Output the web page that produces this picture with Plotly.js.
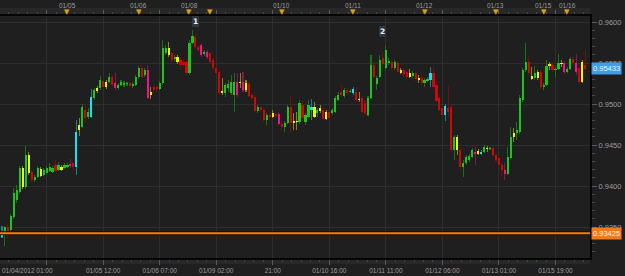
<!DOCTYPE html>
<html>
<head>
<meta charset="utf-8">
<script src="https://cdn.plot.ly/plotly-3.0.1.min.js"></script>
<style>
html,body{margin:0;padding:0;background:#1f1f1f;}
#chart{width:625px;height:276px;}
</style>
</head>
<body>
<div id="chart"></div>
<script>
// Hourly OHLC bars (first bar 01/04/2012 02:00), weekend gap removed
const open = [
.9338,.9340,.9350,.9346,.9362,.9383,.9393,.9422,.9399,.9438,
.9417,.9407,.9411,.9421,.9413,.9416,.9418,.9422,.9418,.9426,
.9423,.9422,.9423,.9424,.9428,.9423,.9468,.9472,.9493,.9484,
.9484,.9507,.9516,.9519,.9528,.9521,.9527,.9533,.9526,.9519,
.9523,.9523,.9524,.9526,.9522,.9523,.9533,.9544,.9535,.9541,
.9515,.9521,.9521,.9518,.9526,.9562,.9568,.9562,.9555,.9557,
.9554,.9551,.9551,.9538,.9574,.9582,.9569,.9572,.9561,.9563,
.9562,.9554,.9544,.9539,.9513,.9513,.9519,.9513,.9527,.9511,
.9526,.9527,.9517,.9524,.9511,.9509,.9491,.9496,.9493,.9480,
.9487,.9484,.9488,.9488,.9476,.9472,.9477,.9496,.9479,
.9478,.9478,.9499,.9478,.9484,.9493,.9496,.9489,.9491,.9493,.9490,
.9490,.9489,.9490,.9505,.9515,.9510,.9517,.9515,.9513,.9515,
.9506,.9507,.9501,.9487,.9507,.9548,.9524,.9533,.9556,.9544,
.9550,.9551,.9544,.9550,
.9541,.9541,.9539,.9533,.9534,.9538,.9529,.9532,.9526,.9528,
.9529,.9538,.9523,.9507,.9495,.9498,.9495,.9496,.9444,.9460,
.9444,.9423,.9428,.9432,.9435,.9441,.9439,.9439,.9441,.9446,
.9445,.9446,.9438,.9434,.9426,.9419,.9415,.9434,.9465,.9465,
.9466,.9505,.9541,.9551,.9534,.9532,.9539,.9539,.9521,.9523,
.9546,.9548,.9541,.9543,.9549,.9550,.9539,.9543,.9555,.9550,
.9544,.9527,.9548
];
const high = [
.9351,.9351,.9354,.9366,.9398,.9401,.9424,.9424,.9449,.9441,
.9419,.9413,.9424,.9423,.9422,.9424,.9428,.9424,.9432,.9429,
.9426,.9428,.9428,.9433,.9430,.9480,.9483,.9500,.9499,.9495,
.9518,.9519,.9522,.9534,.9530,.9529,.9538,.9535,.9538,.9526,
.9529,.9528,.9527,.9527,.9527,.9535,.9546,.9548,.9544,.9548,
.9521,.9522,.9523,.9528,.9578,.9572,.9576,.9564,.9560,.9560,
.9556,.9554,.9554,.9578,.9590,.9585,.9572,.9574,.9566,.9566,
.9563,.9556,.9546,.9541,.9532,.9526,.9529,.9535,.9538,.9538,
.9538,.9539,.9529,.9527,.9513,.9511,.9499,.9498,.9495,.9489,
.9489,.9493,.9490,.9490,.9478,.9479,.9499,.9511,.9489,
.9490,.9505,.9505,.9489,.9505,.9506,.9502,.9495,.9499,.9495,.9493,
.9493,.9495,.9510,.9515,.9523,.9519,.9519,.9518,.9521,.9519,
.9515,.9510,.9505,.9510,.9560,.9551,.9534,.9560,.9563,.9572,
.9556,.9554,.9554,.9552,
.9544,.9544,.9541,.9543,.9540,.9539,.9535,.9534,.9532,.9533,
.9545,.9545,.9530,.9511,.9499,.9500,.9523,.9499,.9462,.9462,
.9446,.9432,.9438,.9439,.9446,.9448,.9445,.9444,.9450,.9449,
.9448,.9448,.9439,.9437,.9428,.9428,.9448,.9472,.9471,.9478,
.9511,.9544,.9574,.9559,.9545,.9546,.9541,.9541,.9526,.9554,
.9551,.9551,.9545,.9561,.9554,.9552,.9545,.9557,.9557,.9561,
.9548,.9554,.9566
];
const low = [
.9337,.9327,.9337,.9344,.9360,.9379,.9390,.9396,.9396,.9413,
.9405,.9405,.9410,.9411,.9412,.9415,.9417,.9416,.9417,.9418,
.9418,.9421,.9422,.9422,.9419,.9413,.9461,.9471,.9478,.9482,
.9483,.9505,.9513,.9517,.9519,.9518,.9526,.9522,.9517,.9517,
.9522,.9521,.9522,.9521,.9519,.9522,.9530,.9532,.9533,.9506,
.9506,.9513,.9515,.9517,.9523,.9560,.9557,.9551,.9552,.9549,
.9541,.9545,.9537,.9535,.9573,.9568,.9563,.9557,.9559,.9555,
.9550,.9541,.9535,.9511,.9511,.9509,.9515,.9511,.9490,.9509,
.9519,.9515,.9515,.9509,.9505,.9490,.9489,.9490,.9478,.9474,
.9482,.9483,.9483,.9474,.9468,.9466,.9476,.9466,.9468,
.9468,.9476,.9480,.9474,.9483,.9480,.9483,.9484,.9489,.9479,.9480,
.9482,.9487,.9489,.9504,.9509,.9507,.9511,.9513,.9511,.9502,
.9502,.9488,.9487,.9485,.9506,.9532,.9517,.9532,.9544,.9541,
.9548,.9541,.9541,.9538,
.9537,.9533,.9530,.9532,.9532,.9528,.9526,.9524,.9521,.9527,
.9521,.9519,.9502,.9491,.9485,.9479,.9483,.9441,.9432,.9438,
.9419,.9411,.9426,.9429,.9434,.9426,.9438,.9438,.9440,.9441,
.9444,.9437,.9429,.9423,.9411,.9407,.9413,.9433,.9454,.9456,
.9463,.9502,.9539,.9535,.9529,.9529,.9529,.9518,.9517,.9522,
.9541,.9539,.9533,.9541,.9545,.9537,.9538,.9541,.9548,.9535,
.9526,.9526,.9543
];
const close = [
.9340,.9350,.9343,.9363,.9391,.9395,.9422,.9399,.9438,.9416,
.9407,.9411,.9422,.9412,.9419,.9422,.9423,.9417,.9426,.9419,
.9419,.9426,.9426,.9427,.9423,.9466,.9474,.9496,.9483,.9490,
.9509,.9517,.9519,.9529,.9521,.9527,.9533,.9523,.9519,.9523,
.9527,.9526,.9526,.9522,.9524,.9533,.9544,.9533,.9541,.9507,
.9511,.9517,.9518,.9526,.9568,.9568,.9560,.9554,.9557,.9551,
.9548,.9548,.9538,.9574,.9583,.9569,.9566,.9560,.9563,.9557,
.9551,.9544,.9538,.9513,.9516,.9523,.9524,.9527,.9511,.9527,
.9527,.9517,.9526,.9510,.9507,.9491,.9496,.9493,.9480,.9487,
.9484,.9489,.9485,.9476,.9472,.9477,.9496,.9477,.9477,
.9479,.9501,.9483,.9487,.9499,.9496,.9484,.9493,.9495,.9482,.9482,
.9483,.9493,.9507,.9511,.9511,.9517,.9513,.9516,.9518,.9505,
.9505,.9490,.9489,.9507,.9548,.9533,.9532,.9554,.9549,.9566,
.9552,.9544,.9551,.9539,
.9538,.9535,.9533,.9538,.9538,.9530,.9532,.9526,.9529,.9530,
.9538,.9521,.9504,.9493,.9487,.9487,.9490,.9444,.9460,.9444,
.9423,.9428,.9435,.9437,.9444,.9439,.9443,.9441,.9448,.9445,
.9446,.9438,.9432,.9426,.9419,.9415,.9435,.9460,.9460,.9468,
.9507,.9541,.9551,.9538,.9530,.9538,.9532,.9521,.9523,.9546,
.9549,.9541,.9543,.9550,.9550,.9539,.9543,.9555,.9550,.9539,
.9527,.9551,.95433
];
// bar colour signal: g green, r red, y yellow, c cyan, m magenta
const signal = (
"cgrggggygy" + "rggyggggrgy".slice(0,10) +
"yggmrcygrg" + "cgygrygrmg" +
"gggrgggrgm" + "yrrgggyrgy" +
"rrrggrrmgm" + "rrrryggggmg".slice(0,10) +
"ymyrrrgrrg" + "ryrmrggry" +
"ygrggcygyry" + "rgggrgrgcr" +
"yrrggrggrg" + "grgr" +
"yrrygryrgg" + "crrrrcrrgy" +
"rggggmycgy" + "grrrrmggyg" +
"gggrygyrgg" + "yrggymggrm" +
"ryr"
).split("");

const lastPrice = 0.95433;
const refLevel = 0.93425;

const gridBars  = [16, 35, 54, 73, 92, 111, 130, 149, 168, 187];
const gridLabels = ["", "01/05 12:00", "01/06 07:00", "01/09 02:00", "21:00",
                    "01/10 16:00", "01/11 11:00", "01/12 06:00", "01/13 01:00", "01/15 19:00"];
const firstLabel = "01/04/2012 01:00";
const dayBars   = [23, 47, 64, 71, 95, 119, 143, 167, 183, 191];
const dayLabels = ["01/05", "01/06", "01/08", "", "01/10", "01/11", "01/12", "01/13", "01/15", "01/16"];
const eventLabels = ["1", "2"];
const eventBars   = [66, 129];
const eventPrices = [0.96006, 0.95884];

// ---- styling ----
const palette = {
  g: {body: "#1ec41e", wick: "#137413"},
  r: {body: "#c80a0a", wick: "#780c0c"},
  y: {body: "#f2f200", wick: "#84841a"},
  c: {body: "#16e2f2", wick: "#12838e"},
  m: {body: "#f01488", wick: "#861450"}
};
const txt = "#9c9c9c";
const fam = "Liberation Sans, Arial, sans-serif";
const N = open.length;
const bars = Array.from({length: N}, (_, k) => k + 1);
const bodyBase = bars.map((_, k) => Math.min(open[k], close[k]));
const bodyH = bars.map((_, k) => Math.max(Math.abs(close[k] - open[k]), 0.00009));
const wickH = bars.map((_, k) => high[k] - low[k]);
const bodyCol = signal.map(s => palette[s].body);
const wickCol = signal.map(s => palette[s].wick);

const xr = [0.336, 198.6];
const PH = 242;

const traces = [
  {type: "bar", x: bars, base: low, y: wickH, width: 0.36,
   marker: {color: wickCol, line: {width: 0}}, hoverinfo: "skip"},
  {type: "bar", x: bars, base: bodyBase, y: bodyH, width: 0.72,
   marker: {color: bodyCol, line: {width: 0}}, hoverinfo: "skip"},
  {type: "scatter", mode: "markers", x: [dayBars[0]], y: [0.95], xaxis: "x2",
   marker: {opacity: 0}, hoverinfo: "skip"}
];

const annotations = [];
dayBars.forEach((b, k) => {
  annotations.push({xref: "x", yref: "paper", x: b, y: 1 + 4 / PH, text: "▼", showarrow: false,
    font: {size: 7, color: "#d9a21b", family: "DejaVu Sans"}, xanchor: "center", yanchor: "middle"});
  if (dayLabels[k]) annotations.push({xref: "x", yref: "paper", x: b, y: 1 + 11 / PH, text: dayLabels[k],
    showarrow: false, font: {size: 6.5, color: txt, family: fam}, xanchor: "center", yanchor: "middle"});
});
annotations.push({xref: "paper", yref: "paper", x: 0, y: -12 / PH, text: firstLabel, showarrow: false,
  font: {size: 6.5, color: txt, family: fam}, xanchor: "left", yanchor: "middle"});
eventLabels.forEach((t, k) => annotations.push({xref: "x", yref: "y", x: eventBars[k], y: eventPrices[k],
  text: "<b>" + t + "</b>", showarrow: false, font: {size: 7.5, color: "#e8f4ff", family: "DejaVu Sans"},
  bgcolor: "#30363a", bordercolor: "#4a4a4a", borderwidth: 0, borderpad: 1}));
annotations.push({xref: "paper", yref: "y", x: 1, xshift: 1, y: lastPrice, text: lastPrice.toFixed(5),
  showarrow: false, xanchor: "left", yanchor: "middle", bgcolor: "#3e9ee8", borderpad: 1,
  font: {size: 7.5, color: "#e6f4ff", family: fam}});
annotations.push({xref: "paper", yref: "y", x: 1, xshift: 1, y: refLevel, text: refLevel.toFixed(5),
  showarrow: false, xanchor: "left", yanchor: "middle", bgcolor: "#ee7a1c", borderpad: 1,
  font: {size: 7.5, color: "#fff0e0", family: fam}});

const shapes = [
  {type: "rect", xref: "paper", yref: "paper", x0: 0, x1: 1, y0: 1, y1: 1 + 8 / PH,
   fillcolor: "#282828", line: {width: 0}, layer: "below"},
  {type: "rect", xref: "paper", yref: "paper", x0: 0, x1: 1, y0: -6 / PH, y1: 0,
   fillcolor: "#282828", line: {width: 0}, layer: "below"},
  {type: "line", xref: "paper", yref: "y", x0: 0, x1: 1, y0: refLevel, y1: refLevel,
   line: {color: "#101010", width: 4}},
  {type: "line", xref: "paper", yref: "y", x0: 0, x1: 1, y0: refLevel, y1: refLevel,
   line: {color: "#ff7a00", width: 2}}
];

const layout = {
  width: 625, height: 276,
  margin: {l: 0, r: 35, t: 16, b: 18, pad: 0},
  paper_bgcolor: "#1f1f1f", plot_bgcolor: "#1f1f1f",
  showlegend: false, barmode: "overlay", bargap: 0,
  xaxis: {range: xr, tickmode: "array", tickvals: gridBars, ticktext: gridLabels,
    showgrid: true, gridcolor: "#2e2e2e", gridwidth: 1, zeroline: false,
    ticks: "outside", ticklen: 5, tickcolor: "#5a5a5a", tickwidth: 1,
    tickfont: {size: 6.5, color: txt, family: fam},
    showline: true, linecolor: "#050505", linewidth: 2,
    minor: {tick0: 16, dtick: 19 / 6, ticks: "outside", ticklen: 2, tickcolor: "#4a4a4a", showgrid: false}},
  xaxis2: {overlaying: "x", side: "top", range: xr, tickmode: "array", tickvals: gridBars,
    showticklabels: false, showgrid: false, zeroline: false,
    ticks: "outside", ticklen: 4, tickcolor: "#5a5a5a",
    showline: true, linecolor: "#050505", linewidth: 2,
    minor: {tick0: 16, dtick: 19 / 6, ticks: "outside", ticklen: 2, tickcolor: "#4a4a4a", showgrid: false}},
  yaxis: {side: "right", range: [0.93122, 0.960732], tick0: 0.935, dtick: 0.005, tickformat: ".4f",
    showgrid: true, gridcolor: "#2e2e2e", zeroline: false,
    ticks: "outside", ticklen: 5, tickcolor: "#5a5a5a",
    tickfont: {size: 7.5, color: txt, family: fam},
    showline: true, linecolor: "#050505", linewidth: 2,
    minor: {dtick: 0.001, ticks: "outside", ticklen: 3, tickcolor: "#4a4a4a", showgrid: false}},
  annotations: annotations,
  shapes: shapes
};

Plotly.newPlot("chart", traces, layout, {staticPlot: true, displayModeBar: false});
</script>
</body>
</html>
